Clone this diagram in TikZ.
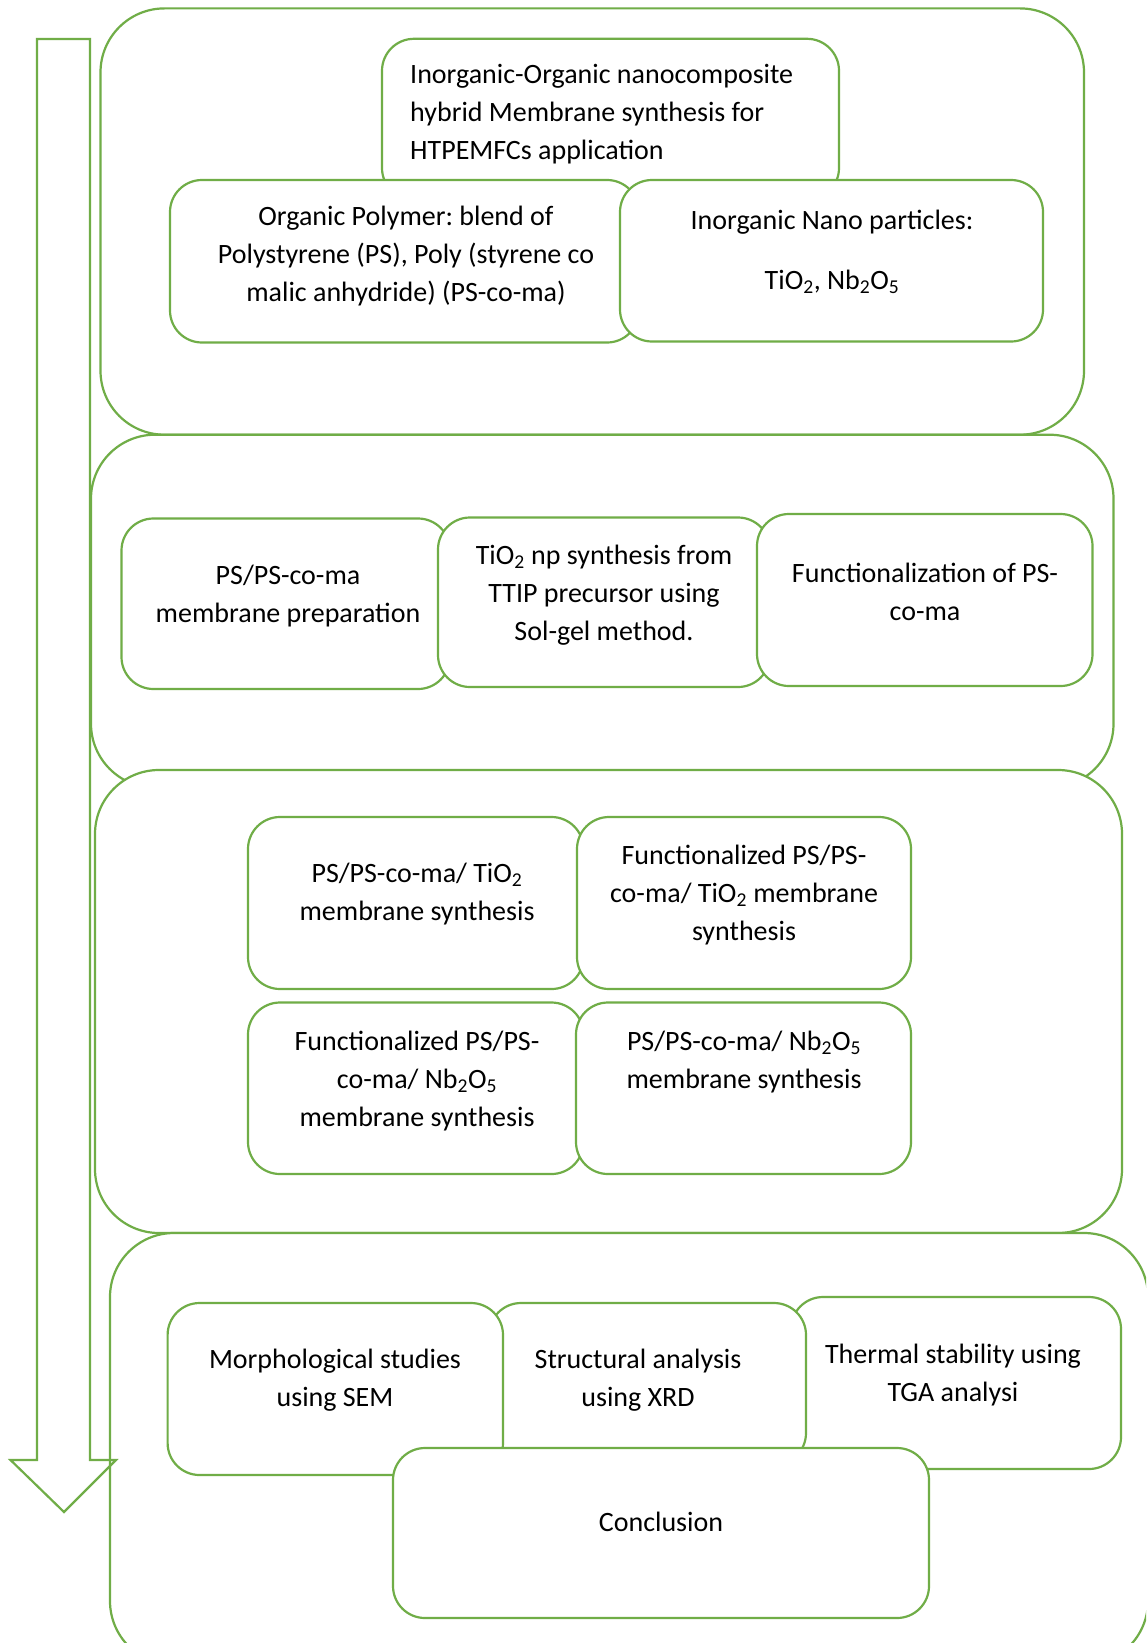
\documentclass[tikz,border=0pt]{standalone}
\usepackage{fontspec}
\setmainfont{Carlito}
\frenchspacing
\definecolor{boxgreen}{RGB}{112,173,71}
\tikzset{
  boxline/.style={draw=boxgreen, line width=2.2pt, fill=white},
  arrowline/.style={draw=boxgreen, line width=2.2pt},
  txt/.style={font=\fontsize{28}{37.7}\selectfont, inner sep=0pt, align=center, text=black},
}
\newcommand\grbox[5]{\path[boxline, rounded corners=#5] (#1,#2) rectangle (#3,#4);}
\newcommand\sbs[1]{\textsubscript{#1}}
\begin{document}
\begin{tikzpicture}[x=1pt,y=-1pt]
\useasboundingbox (0,0) rectangle (1146,1643);
\fill[white] (0,0) rectangle (1146,1643);
\clip (0,0) rectangle (1146,1643);
% stage 1
\grbox{100.5}{8.4}{1084}{434.7}{64}
\grbox{382}{38.8}{839}{200}{32}
\node[txt, align=left, anchor=west] (title) at (410,114) {Inorganic-Organic nanocomposite\\hybrid Membrane synthesis for\\HTPEMFCs application};
\grbox{170}{180}{639}{342.5}{32}
\node[txt] (org) at (406,256) {Organic Polymer: blend of\\Polystyrene (PS), Poly (styrene co\\malic anhydride) (PS-co-ma)};
\grbox{620}{180}{1043}{341.5}{32}
\node[txt] (inorg) at (832,252) {Inorganic Nano particles:\\[21.6pt]TiO\sbs{2}, Nb\sbs{2}O\sbs{5}};
% stage 2
\grbox{91}{434.7}{1113.5}{787.7}{64}
\grbox{121.5}{518.5}{450}{689}{32}
\node[txt] (prep) at (288,596) {PS/PS-co-ma\\membrane preparation};
\grbox{438}{517.5}{770}{687}{32}
\node[txt] (tio) at (604,595) {TiO\sbs{2} np synthesis from\\TTIP precursor using\\Sol-gel method.};
\grbox{757}{514}{1092.5}{686}{32}
\node[txt] (func) at (925,592) {Functionalization of PS-\\co-ma};
% stage 3
\grbox{95}{770}{1122}{1233}{64}
\grbox{248}{817}{583.5}{989}{32}
\node[txt] (d) at (417,894) {PS/PS-co-ma/ TiO\sbs{2}\\membrane synthesis};
\grbox{577}{817}{911}{989}{32}
\node[txt] (e) at (744,895) {Functionalized PS/PS-\\co-ma/ TiO\sbs{2} membrane\\synthesis};
\grbox{248}{1002.5}{583.5}{1174}{32}
\node[txt] (f) at (417,1081) {Functionalized PS/PS-\\co-ma/ Nb\sbs{2}O\sbs{5}\\membrane synthesis};
\grbox{576}{1002.5}{911}{1174}{32}
\node[txt] (g) at (744,1062) {PS/PS-co-ma/ Nb\sbs{2}O\sbs{5}\\membrane synthesis};
% stage 4
\grbox{110}{1233}{1148}{1665}{64}
\grbox{791}{1297}{1121}{1469}{32}
\node[txt] (j) at (953,1375) {Thermal stability using\\TGA analysi};
\grbox{489}{1303}{806}{1465}{32}
\node[txt] (i) at (638,1380) {Structural analysis\\using XRD};
\grbox{167.6}{1303}{503}{1475}{32}
\node[txt] (h) at (335,1380) {Morphological studies\\using SEM};
\grbox{393}{1448}{929}{1618}{32}
\node[txt] (concl) at (661,1522) {Conclusion};
% arrow
\path[arrowline, miter limit=10] (37,39) -- (90,39) -- (90,1460) -- (116,1460) -- (64,1512) -- (10.5,1460) -- (37,1460) -- cycle;
\end{tikzpicture}
\end{document}
